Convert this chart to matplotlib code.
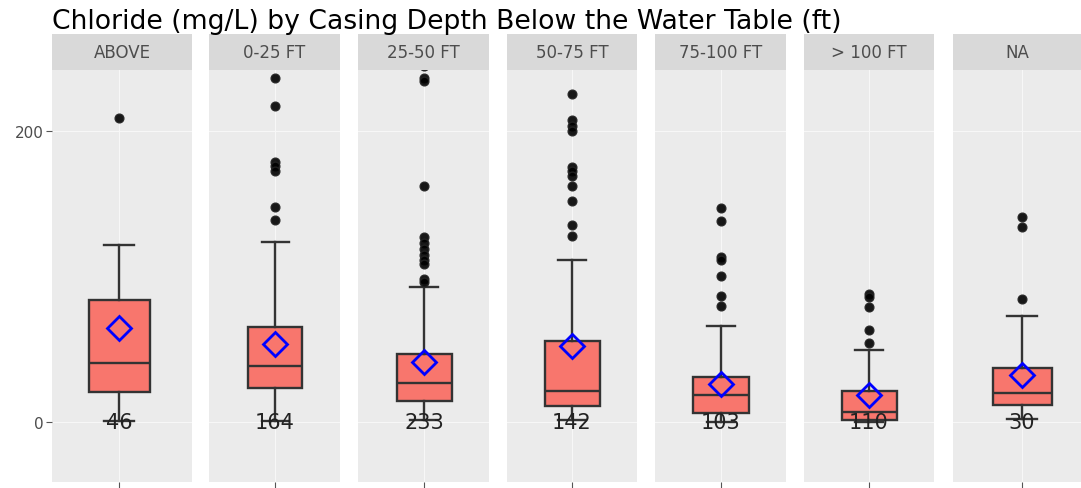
import numpy as np
import matplotlib
matplotlib.use("Agg")
import matplotlib.pyplot as plt

# chloride (mg/L) box stats per casing depth class
groups = ["ABOVE", "0-25 FT", "25-50 FT", "50-75 FT", "75-100 FT", "> 100 FT", "NA"]
counts = [46, 164, 233, 142, 103, 110, 30]
whislo = [1.0, 1.0, 1.5, 1.5, 0.5, 0.0, 2.0]
q1 = [20.6, 23.5, 14.6, 11.4, 6.2, 1.6, 12.1]
med = [40.5, 38.6, 26.7, 21.3, 18.5, 7.3, 20.1]
q3 = [83.9, 65.2, 46.8, 56.0, 31.3, 21.7, 37.0]
whishi = [121.8, 123.9, 93.0, 111.5, 66.3, 49.6, 72.7]
means = [64.5, 53.7, 41.1, 52.5, 26.3, 18.9, 32.4]
fliers = [
    [208.5],
    [236, 217, 178.7, 176, 172, 147.7, 138.7],
    [244, 236, 234, 162, 127, 123, 119, 115, 111, 108.6, 98.3, 96],
    [225.2, 207, 203.5, 200, 175, 172, 169.2, 162, 152, 135.3, 127.6],
    [146.8, 138, 113.2, 111.5, 100, 86.8, 79.6],
    [88, 85.7, 79.3, 63.5, 54.2],
    [141, 133.7, 84.6],
]

# layout in pixels (figure is 1081 x 489)
W, H = 1081, 489
panel_x = [(52, 192), (209, 340), (358, 489), (507, 637), (655, 786), (804, 934), (953, 1081)]
centers = [119, 275, 424, 572, 720.5, 869, 1022]
box_w = [61, 54, 55, 55, 56, 55, 59]
strip_top, strip_bot, plot_bot = 35, 70.7, 483.3
ymin, ymax = -41.2, 241.8

def px_rect(x0, y0, x1, y1):
    return [x0 / W, 1 - y1 / H, (x1 - x0) / W, (y1 - y0) / H]

fig = plt.figure(figsize=(W / 100, H / 100), dpi=100)
fig.patch.set_facecolor("white")

for i, name in enumerate(groups):
    x0, x1 = panel_x[i]
    c = centers[i]
    ax = fig.add_axes(px_rect(x0, strip_bot, x1, plot_bot))
    ax.set_facecolor("#EBEBEB")
    for s in ax.spines.values():
        s.set_visible(False)
    ax.set_xlim(x0 - c, x1 - c)
    ax.set_ylim(ymin, ymax)
    ax.set_yticks([0, 200])
    ax.set_xticks([0])
    ax.grid(True, color="#F7F7F7", lw=0.8)
    ax.set_axisbelow(True)
    ax.tick_params(axis="x", length=4, color="#555555", labelbottom=False, width=0.8)
    if i == 0:
        ax.tick_params(axis="y", length=4, color="#555555", labelsize=11,
                       labelcolor="#4d4d4d", width=0.8, pad=2)
    else:
        ax.tick_params(axis="y", length=0, labelleft=False)

    stats = [dict(whislo=whislo[i], q1=q1[i], med=med[i], q3=q3[i],
                  whishi=whishi[i], mean=means[i], fliers=fliers[i])]
    ax.bxp(stats, positions=[0], widths=box_w[i], patch_artist=True,
           showmeans=True, manage_ticks=False,
           boxprops=dict(facecolor="#F8766D", edgecolor="#333333", lw=1.7),
           medianprops=dict(color="#333333", lw=1.7),
           whiskerprops=dict(color="#333333", lw=1.7),
           capprops=dict(color="#333333", lw=1.7),
           capwidths=box_w[i] * 0.5,
           flierprops=dict(marker="o", markerfacecolor="black", markeredgecolor="#222222",
                           markersize=6.3, alpha=0.9),
           meanprops=dict(marker="D", markerfacecolor="none", markeredgecolor="blue",
                          markersize=12, markeredgewidth=2))
    ax.text(0, 0, str(counts[i]), ha="center", va="center", fontsize=15,
            color="#222222", zorder=5)

    sax = fig.add_axes(px_rect(x0, strip_top, x1, strip_bot))
    sax.set_facecolor("#D9D9D9")
    sax.set_xticks([])
    sax.set_yticks([])
    for s in sax.spines.values():
        s.set_visible(False)
    sax.text(0.5, 0.5, name, ha="center", va="center", fontsize=12,
             color="#4d4d4d", transform=sax.transAxes)

fig.text(52 / W, 1 - 29 / H, "Chloride (mg/L) by Casing Depth Below the Water Table (ft)",
         ha="left", va="baseline", fontsize=19.2, color="black")

fig.savefig("out.png", dpi=100)
